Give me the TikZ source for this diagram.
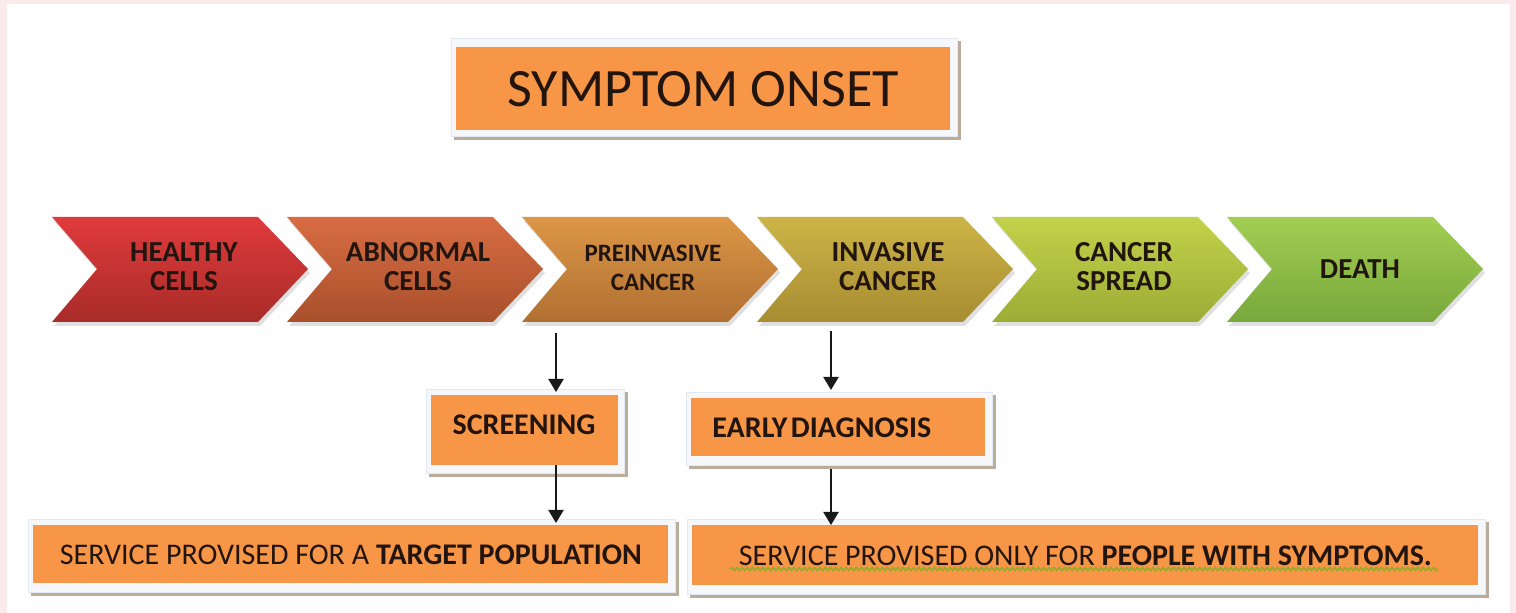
\documentclass[tikz,border=0pt]{standalone}
\usepackage{fontspec}
\setmainfont{Carlito}
\usetikzlibrary{arrows.meta,calc,decorations.pathmorphing}
\definecolor{pinkbg}{HTML}{FBEAEC}
\definecolor{orangebox}{HTML}{F79646}
\definecolor{txt}{HTML}{221510}
\definecolor{shadowc}{HTML}{BCAC9C}
\definecolor{framec}{HTML}{F5F7FA}
\definecolor{frameline}{HTML}{E3E9F0}
\definecolor{waveg}{HTML}{8AAE2A}
\definecolor{chAt}{HTML}{E03A3C}\definecolor{chAb}{HTML}{A82C28}
\definecolor{chBt}{HTML}{D86C42}\definecolor{chBb}{HTML}{A8502C}
\definecolor{chCt}{HTML}{DC9646}\definecolor{chCb}{HTML}{B07032}
\definecolor{chDt}{HTML}{CCB446}\definecolor{chDb}{HTML}{A88C32}
\definecolor{chEt}{HTML}{C2D24A}\definecolor{chEb}{HTML}{9CAC36}
\definecolor{chFt}{HTML}{A2CE52}\definecolor{chFb}{HTML}{78A83C}
\tikzset{
  obox/.style={fill=orangebox, draw=none, anchor=north west, inner sep=0pt, text=txt},
  chlbl/.style={align=center, text=txt, font=\bfseries\fontsize{14.5}{14.5}\selectfont, inner sep=0pt},
  arr/.style={draw=black!90, line width=1pt, -{Triangle[width=7.5pt,length=6.5pt]}},
}
% frame behind an orange box: #1 = node name
\newcommand{\myboxfrm}[1]{%
  \fill[shadowc] ($(#1.north west)+(-2,-3)$) rectangle ($(#1.south east)+(10,12)$);
  \fill[framec, draw=frameline, line width=0.4pt] ($(#1.north west)+(-5,-6)$) rectangle ($(#1.south east)+(7,9)$);
}
\newcommand{\mychev}[3]{%
  \fill[black, opacity=0.12] (#1+2,217+4) -- (#1+208,217+4) -- (#1+258,269+4) -- (#1+208,322+4) -- (#1+2,322+4) -- (#1+47,269+4) -- cycle;
  \shade[top color=#2, bottom color=#3] (#1,217) -- (#1+206,217) -- (#1+256,269) -- (#1+206,322) -- (#1,322) -- (#1+45,269) -- cycle;
}
\begin{document}
\begin{tikzpicture}[x=0.5pt,y=-0.5pt]
% background
\fill[pinkbg] (0,0) rectangle (1516,613);
\fill[white] (7,4) rectangle (1510,613);

% chevrons
\mychev{52}{chAt}{chAb}
\mychev{287}{chBt}{chBb}
\mychev{522}{chCt}{chCb}
\mychev{757}{chDt}{chDb}
\mychev{992}{chEt}{chEb}
\mychev{1227}{chFt}{chFb}

\node[chlbl] (c1) at (184,267) {HEALTHY\\CELLS};
\node[chlbl] (c2) at (418,267) {ABNORMAL\\CELLS};
\node[chlbl, font=\bfseries\fontsize{12.5}{14.5}\selectfont] (c3) at (653,268) {PREINVASIVE\\CANCER};
\node[chlbl] (c4) at (888,267) {INVASIVE\\CANCER};
\node[chlbl] (c5) at (1124,267) {CANCER\\SPREAD};
\node[chlbl] (c6) at (1360,269) {DEATH};

% title
\node[obox, minimum width=247pt, minimum height=41.5pt] (title) at (456,44) {};
\myboxfrm{title}
\node[obox, minimum width=247pt, minimum height=41.5pt, font=\fontsize{27}{30}\selectfont] (titlet) at (456,47) {SYMPTOM ONSET};

% screening
\node[obox, minimum width=93pt, minimum height=34.5pt] (scr) at (431,395) {};
\myboxfrm{scr}
\fill[orangebox] (scr.north west) rectangle (scr.south east);
\node[text=txt, inner sep=0pt, font=\bfseries\fontsize{15}{16}\selectfont] (scrt) at (524,425) {SCREENING};

% early diagnosis
\node[obox, minimum width=147pt, minimum height=29pt] (ed) at (691,398) {};
\myboxfrm{ed}
\node[obox, text width=126pt, inner xsep=10.5pt, minimum height=29pt, align=left, font=\bfseries\fontsize{15}{16}\selectfont] (edt) at (691,398) {EARLY\hspace{0.12em}DIAGNOSIS};

% target population
\node[obox, minimum width=317.5pt, minimum height=29pt] (tp) at (33,525) {};
\myboxfrm{tp}
\node[obox, minimum width=317.5pt, minimum height=29pt, font=\fontsize{15}{17}\selectfont] (tpt) at (33,525) {SERVICE PROVISED FOR A \textbf{TARGET POPULATION}};

% people with symptoms
\node[obox, minimum width=393pt, minimum height=30pt] (ps) at (692,525) {};
\myboxfrm{ps}
\node[obox, minimum width=393pt, minimum height=30pt, font=\fontsize{15}{17}\selectfont] (pst) at (692,525) {SERVICE PROVISED ONLY FOR \textbf{PEOPLE WITH SYMPTOMS.}};
\draw[waveg, line width=0.7pt, decorate, decoration={snake, segment length=2.6pt, amplitude=0.8pt}] (730,569) -- (1438,569);

% arrows
\coordinate (a1) at (556,333);
\coordinate (a2) at (831,331);
\draw[arr, shorten >=1.5pt] (a1) -- (a1 |- scr.north);
\draw[arr, shorten >=1pt] (a1 |- scr.south) -- (a1 |- tp.north);
\draw[arr, shorten >=4pt] (a2) -- (a2 |- ed.north);
\draw[arr, shorten <=6pt] (a2 |- ed.south) -- (a2 |- ps.north);
\end{tikzpicture}
\end{document}
